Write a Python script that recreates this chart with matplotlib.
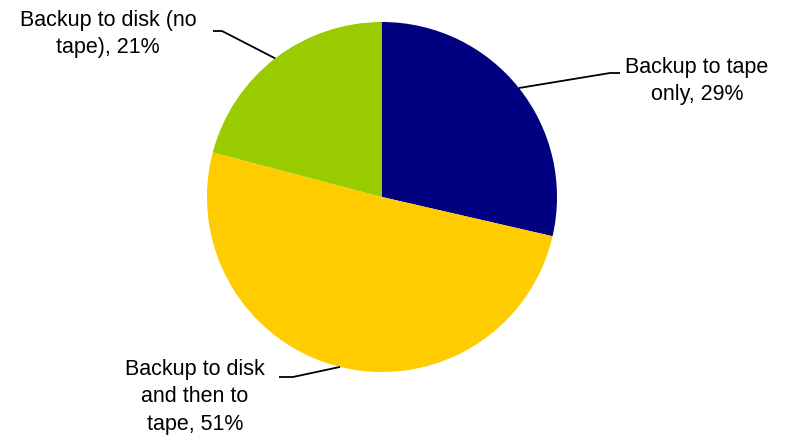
import numpy as np
import matplotlib
matplotlib.use("Agg")
import matplotlib.pyplot as plt

labels = ["Backup to tape\nonly, 29%", "Backup to disk\nand then to\ntape, 51%", "Backup to disk (no\ntape), 21%"]
values = [28.6, 50.5, 20.9]
colors = ["#000080", "#FFCC00", "#99CC00"]

W, H = 786, 438
fig = plt.figure(figsize=(W / 100, H / 100), dpi=100)
ax = fig.add_axes([0, 0, 1, 1])

cx, cy, r = 382, H - 197, 175
wedges, _ = ax.pie(values, colors=colors, startangle=90, counterclock=False,
                   center=(cx, cy), radius=r, frame=True,
                   wedgeprops=dict(linewidth=0))
ax.set_xlim(0, W)
ax.set_ylim(0, H)
ax.set_aspect("equal")
ax.axis("off")

# label layout: (elbow x, elbow y, horizontal end x, text x, text y)
layout = [
    (610, H - 73, 620, 697, H - 81),
    (293, H - 377, 279, 195, H - 397),
    (222, H - 31, 213, 108, H - 34),
]
for w, lab, (ex, ey, hx, tx, ty) in zip(wedges, labels, layout):
    ang = np.deg2rad((w.theta1 + w.theta2) / 2)
    ax0, ay0 = cx + r * np.cos(ang), cy + r * np.sin(ang)
    ax.plot([ax0, ex, hx], [ay0, ey, ey], color="black", lw=1.3, solid_capstyle="butt")
    ax.text(tx, ty, lab, ha="center", va="center", fontsize=15.5,
            family="Liberation Sans", linespacing=1.4, color="black")

fig.savefig("out.png", dpi=100)
